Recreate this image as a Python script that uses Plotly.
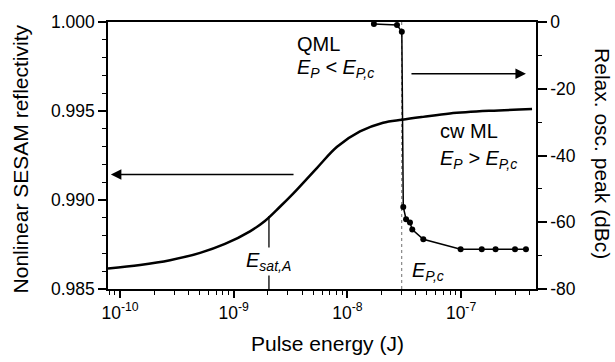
import math
import plotly.graph_objects as go

# Nonlinear SESAM reflectivity vs pulse energy (left axis)
energy_refl = [7.83e-11, 1.50e-10, 2.75e-10, 5.06e-10, 8.37e-10, 1.39e-9, 1.88e-9,
               2.55e-9, 3.33e-9, 5.41e-9, 8.11e-9, 1.29e-8, 2.06e-8, 3.02e-8,
               4.62e-8, 7.98e-8, 1.79e-7, 4.21e-7]
reflectivity = [0.98615, 0.98635, 0.98662, 0.98703, 0.98753, 0.98824, 0.98882,
                0.98962, 0.99036, 0.99181, 0.99299, 0.99385, 0.99434, 0.99451,
                0.99467, 0.99486, 0.99501, 0.99511]

# Relaxation oscillation peak vs pulse energy (right axis)
energy_ro = [1.71e-8, 2.73e-8, 3.01e-8, 3.10e-8, 3.28e-8, 3.55e-8, 3.72e-8,
             4.65e-8, 9.91e-8, 1.52e-7, 2.01e-7, 2.98e-7, 3.72e-7]
ro_peak = [-0.6, -0.9, -2.9, -55.4, -59.1, -60.1, -62.2, -65.1, -68.1,
           -68.1, -68.1, -68.1, -68.1]

e_sat_a = 2.04e-9
e_pc = 3.0e-8
x_major = [1e-10, 1e-9, 1e-8, 1e-7]
x_major_text = ["10<sup>-10</sup>", "10<sup>-9</sup>", "10<sup>-8</sup>", "10<sup>-7</sup>"]
x_minor = [m * 10.0 ** d for d in range(-11, -6) for m in range(2, 10)]
x_range = [7.83e-11, 4.56e-7]
y2_major = [-80, -60, -40, -20, 0]
y2_major_text = ["-80", "-60", "-40", "-20", "0"]

FONT = "Liberation Sans, Arial, sans-serif"

fig = go.Figure()
fig.add_trace(go.Scatter(x=energy_refl, y=reflectivity, mode="lines",
                         line=dict(color="black", width=2.5, shape="spline", smoothing=1.0),
                         showlegend=False, yaxis="y"))
fig.add_trace(go.Scatter(x=energy_ro, y=ro_peak, mode="lines+markers",
                         line=dict(color="black", width=1.5),
                         marker=dict(color="black", size=6),
                         showlegend=False, yaxis="y2"))

# Gray dotted vertical marker at E_P,c
fig.add_shape(type="line", xref="x", yref="paper", x0=e_pc, x1=e_pc, y0=0, y1=1,
              line=dict(color="#888888", width=1.2, dash="dot"), layer="below")
# E_sat,A marker
fig.add_shape(type="line", xref="x", yref="y", x0=e_sat_a, x1=e_sat_a, y0=0.985, y1=0.9891,
              line=dict(color="black", width=1.3))

ann = []
lx = math.log10
# arrows
ann.append(dict(x=lx(8.3e-11), y=0.99143, ax=lx(3.46e-9), ay=0.99143, xref="x", yref="y",
                axref="x", ayref="y", text="", showarrow=True, arrowhead=2, arrowsize=1.4,
                arrowwidth=1.5, arrowcolor="black"))
ann.append(dict(x=lx(3.72e-7), y=0.99709, ax=lx(3.55e-8), ay=0.99709, xref="x", yref="y",
                axref="x", ayref="y", text="", showarrow=True, arrowhead=2, arrowsize=1.4,
                arrowwidth=1.5, arrowcolor="black"))
# region labels
tf = dict(family=FONT, size=20, color="black")
ann.append(dict(x=lx(3.46e-9), y=0.99874, xref="x", yref="y", text="QML", showarrow=False,
                xanchor="left", yanchor="middle", font=tf))
ann.append(dict(x=lx(3.46e-9), y=0.99741, xref="x", yref="y",
                text="<i>E<sub>P</sub> &lt; E<sub>P,c</sub></i>", showarrow=False,
                xanchor="left", yanchor="middle", font=tf))
ann.append(dict(x=lx(6.3e-8), y=0.99385, xref="x", yref="y", text="cw ML", showarrow=False,
                xanchor="left", yanchor="middle", font=tf))
ann.append(dict(x=lx(6.3e-8), y=0.99225, xref="x", yref="y",
                text="<i>E<sub>P</sub> &gt; E<sub>P,c</sub></i>", showarrow=False,
                xanchor="left", yanchor="middle", font=tf))
ann.append(dict(x=lx(e_sat_a), y=0.98655, xref="x", yref="y",
                text="<i>E<sub>sat,A</sub></i>", showarrow=False, bgcolor="white",
                xanchor="center", yanchor="middle", font=tf))
ann.append(dict(x=lx(3.55e-8), y=0.98600, xref="x", yref="y",
                text="<i>E<sub>P,c</sub></i>", showarrow=False,
                xanchor="left", yanchor="middle", font=tf))
# axis titles
ttf = dict(family=FONT, size=21, color="black")
ann.append(dict(x=0.5129, y=-0.205, xref="paper", yref="paper", text="Pulse energy (J)",
                showarrow=False, xanchor="center", yanchor="middle", font=ttf))
ann.append(dict(x=-0.2056, y=0.4853, xref="paper", yref="paper",
                text="Nonlinear SESAM reflectivity", textangle=-90,
                showarrow=False, xanchor="center", yanchor="middle", font=ttf))
ann.append(dict(x=1.1565, y=0.5055, xref="paper", yref="paper",
                text="Relax. osc. peak (dBc)", textangle=90,
                showarrow=False, xanchor="center", yanchor="middle", font=ttf))

tickfont = dict(family=FONT, size=17.5, color="black")
fig.update_layout(
    width=615, height=362,
    margin=dict(l=108, r=79, t=15, b=73),
    plot_bgcolor="white", paper_bgcolor="white",
    annotations=ann,
    xaxis=dict(type="log", range=[lx(x_range[0]), lx(x_range[1])],
               showline=True, linecolor="black", linewidth=1.5, mirror=True,
               ticks="outside", ticklen=7, tickwidth=1.5, tickcolor="black",
               tickvals=x_major, ticktext=x_major_text, showgrid=False, zeroline=False,
               tickfont=tickfont,
               minor=dict(tickvals=x_minor, ticks="outside", ticklen=4, tickwidth=1.2,
                          tickcolor="black", showgrid=False)),
    yaxis=dict(range=[0.985, 1.000], dtick=0.005, tick0=0.985, tickformat=".3f",
               showline=True, linecolor="black", linewidth=1.5,
               ticks="outside", ticklen=8, tickwidth=1.5, tickcolor="black",
               showgrid=False, zeroline=False, tickfont=tickfont,
               minor=dict(dtick=0.001, ticks="outside", ticklen=4, tickwidth=1.2,
                          tickcolor="black", showgrid=False)),
    yaxis2=dict(range=[-80, 0], tickvals=y2_major, ticktext=y2_major_text,
                overlaying="y", side="right",
                showline=True, linecolor="black", linewidth=1.5,
                ticks="outside", ticklen=9, tickwidth=1.5, tickcolor="black",
                showgrid=False, zeroline=False, tickfont=tickfont,
                minor=dict(tickvals=[-70, -50, -30, -10], ticks="outside", ticklen=4,
                           tickwidth=1.2, tickcolor="black", showgrid=False)),
)

fig.write_html("out.html")
